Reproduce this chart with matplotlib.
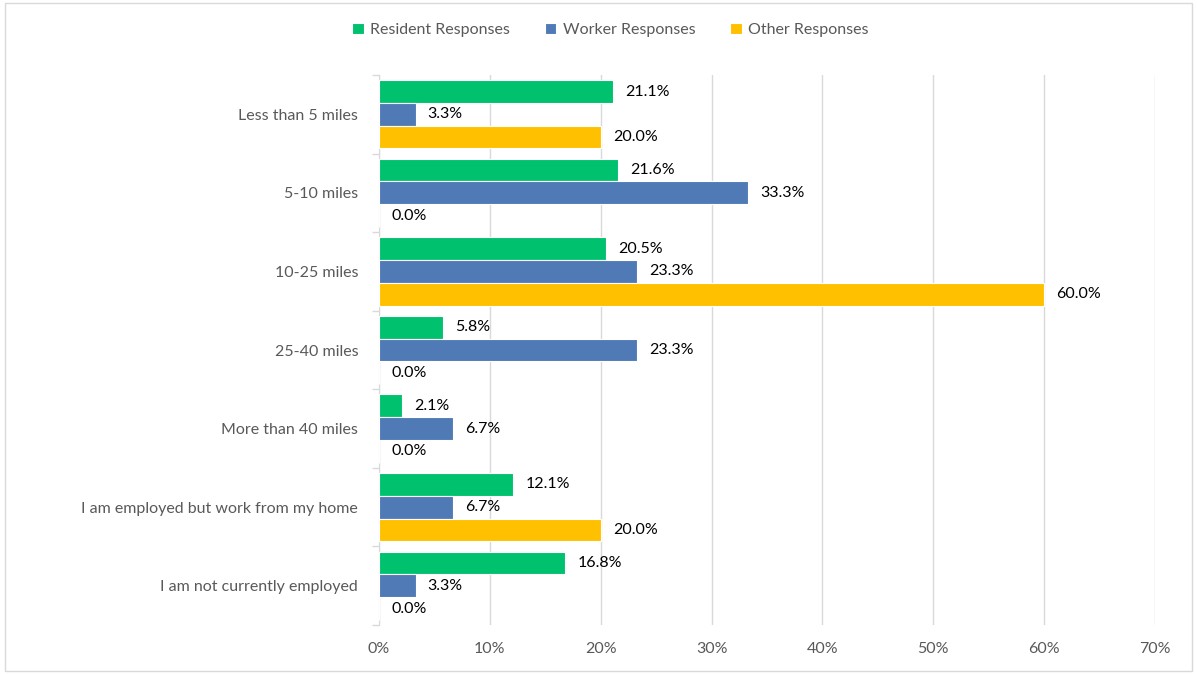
import numpy as np
import matplotlib
matplotlib.use("Agg")
import matplotlib.pyplot as plt
from matplotlib.patches import Rectangle
from matplotlib.ticker import FixedLocator, PercentFormatter

plt.rcParams["font.family"] = ["Lato", "DejaVu Sans"]

categories = [
    "Less than 5 miles",
    "5-10 miles",
    "10-25 miles",
    "25-40 miles",
    "More than 40 miles",
    "I am employed but work from my home",
    "I am not currently employed",
]
resident = [21.1, 21.6, 20.5, 5.8, 2.1, 12.1, 16.8]
worker = [3.3, 33.3, 23.3, 23.3, 6.7, 6.7, 3.3]
other = [20.0, 0.0, 60.0, 0.0, 0.0, 20.0, 0.0]

series = [
    ("Resident Responses", resident, "#00C16E"),
    ("Worker Responses", worker, "#4F7AB5"),
    ("Other Responses", other, "#FFC000"),
]

fig = plt.figure(figsize=(11.97, 6.74), dpi=100)
ax = fig.add_axes([0.3166, 0.0727, 0.6484, 0.816])

y = np.arange(len(categories))
h = 0.29
for i, (name, vals, color) in enumerate(series):
    pos = y + (i - 1) * h
    ax.barh(pos, vals, height=h, color=color, edgecolor="white",
            linewidth=0.8, label=name, zorder=3)
    for p, v in zip(pos, vals):
        ax.text(v + 1.1, p, f"{v:.1f}%", va="center", ha="left",
                fontsize=11.5, color="black")

ax.set_xlim(0, 70)
ax.set_ylim(len(categories) - 0.5, -0.5)
ax.set_xticks(np.arange(0, 71, 10))
ax.xaxis.set_major_formatter(PercentFormatter(decimals=0))
ax.set_yticks(y)
ax.set_yticklabels(categories)
ax.yaxis.set_minor_locator(FixedLocator(np.arange(-0.5, len(categories), 1)))
ax.tick_params(axis="y", which="major", length=0, pad=15, labelsize=11.5,
               labelcolor="#595959")
ax.tick_params(axis="y", which="minor", length=5, color="#D9D9D9", width=1)
ax.tick_params(axis="x", length=0, pad=12, labelsize=11.5, labelcolor="#595959")

ax.grid(axis="x", color="#D9D9D9", linewidth=1, zorder=0)
for s in ["top", "right", "bottom"]:
    ax.spines[s].set_visible(False)
ax.spines["left"].set_color("#D9D9D9")

leg = fig.legend(loc="center", bbox_to_anchor=(0.51, 0.955), ncol=3,
                 frameon=False, fontsize=11.5, handlelength=0.7,
                 handleheight=0.7, columnspacing=2.2, handletextpad=0.4)
for t in leg.get_texts():
    t.set_color("#595959")

fig.patches.append(Rectangle((0.004, 0.004), 0.992, 0.992,
                             transform=fig.transFigure, fill=False,
                             edgecolor="#D9D9D9", linewidth=1))

fig.savefig("out.png", dpi=100)
